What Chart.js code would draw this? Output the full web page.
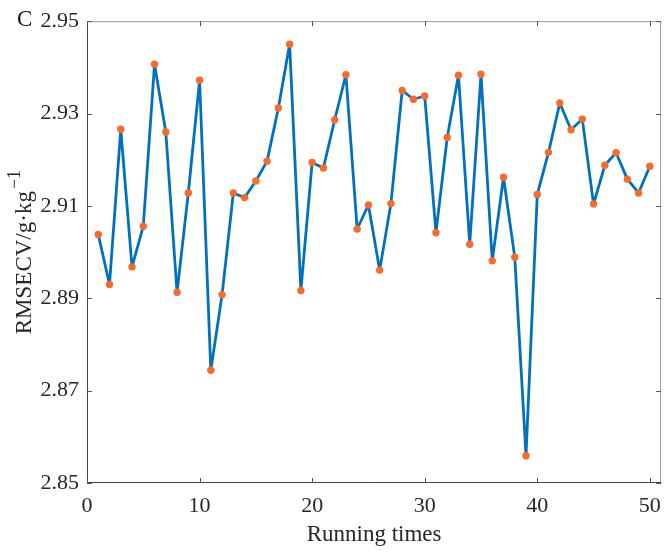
<!DOCTYPE html>
<html>
<head>
<meta charset="utf-8">
<script src="https://cdn.jsdelivr.net/npm/chart.js@4"></script>
<style>
  html, body { margin: 0; padding: 0; background: #fff; }
  canvas { display: block; }
</style>
</head>
<body>
<canvas id="rmsecvChart" width="671" height="553"></canvas>
<script>
// running index (x) and RMSECV (y)
var runs = [1, 2, 3, 4, 5, 6, 7, 8, 9, 10,
  11, 12, 13, 14, 15, 16, 17, 18, 19, 20,
  21, 22, 23, 24, 25, 26, 27, 28, 29, 30,
  31, 32, 33, 34, 35, 36, 37, 38, 39, 40,
  41, 42, 43, 44, 45, 46, 47, 48, 49, 50];
var rmsecv = [2.9038, 2.8930, 2.9266, 2.8968, 2.9056, 2.9407, 2.9260, 2.8913, 2.9128, 2.9372,
  2.8744, 2.8908, 2.9128, 2.9118, 2.9154, 2.9197, 2.9312, 2.9450, 2.8917, 2.9194,
  2.9182, 2.9286, 2.9384, 2.9050, 2.9102, 2.8961, 2.9105, 2.9350, 2.9331, 2.9338,
  2.9042, 2.9248, 2.9383, 2.9017, 2.9385, 2.8981, 2.9162, 2.8989, 2.8559, 2.9125,
  2.9216, 2.9323, 2.9265, 2.9288, 2.9104, 2.9188, 2.9215, 2.9158, 2.9128, 2.9186];
var xTicks = [0, 10, 20, 30, 40, 50];
var yTicks = [2.85, 2.87, 2.89, 2.91, 2.93, 2.95];

var SERIF = "'Liberation Serif', 'Times New Roman', serif";
var INK = "#262626";

// MATLAB-style box with inward ticks, panel letter and y label with superscript
var framePlugin = {
  id: "frame",
  afterDraw: function (chart) {
    var ctx = chart.ctx;
    var a = chart.chartArea;
    var xs = chart.scales.x;
    var ys = chart.scales.y;
    var tl = 5;
    ctx.save();
    ctx.lineWidth = 1;

    ctx.strokeStyle = "#9a9a9a";
    ctx.beginPath();
    ctx.moveTo(a.left, a.top + 0.5);
    ctx.lineTo(a.right, a.top + 0.5);
    ctx.moveTo(a.right - 0.5, a.top);
    ctx.lineTo(a.right - 0.5, a.bottom);
    ctx.stroke();

    ctx.strokeStyle = "#444";
    ctx.beginPath();
    ctx.moveTo(a.left + 0.5, a.top);
    ctx.lineTo(a.left + 0.5, a.bottom);
    ctx.moveTo(a.left, a.bottom - 0.5);
    ctx.lineTo(a.right, a.bottom - 0.5);
    ctx.stroke();

    ctx.strokeStyle = "#555";
    ctx.beginPath();
    xTicks.forEach(function (v) {
      var px = Math.round(xs.getPixelForValue(v)) + 0.5;
      ctx.moveTo(px, a.bottom);
      ctx.lineTo(px, a.bottom - tl);
      ctx.moveTo(px, a.top);
      ctx.lineTo(px, a.top + tl);
    });
    yTicks.forEach(function (v) {
      var py = Math.round(ys.getPixelForValue(v)) + 0.5;
      ctx.moveTo(a.left, py);
      ctx.lineTo(a.left + tl, py);
      ctx.moveTo(a.right, py);
      ctx.lineTo(a.right - tl, py);
    });
    ctx.stroke();

    ctx.fillStyle = "#111";
    ctx.font = "23px " + SERIF;
    ctx.textAlign = "left";
    ctx.textBaseline = "alphabetic";
    ctx.fillText("C", 17, 26);

    // y axis label, rotated
    ctx.translate(31, (a.top + a.bottom) / 2);
    ctx.rotate(-Math.PI / 2);
    ctx.fillStyle = INK;
    var main = "RMSECV/g\u00b7kg";
    var sup = "\u22121";
    ctx.font = "23px " + SERIF;
    var w1 = ctx.measureText(main).width;
    ctx.font = "18px " + SERIF;
    var w2 = ctx.measureText(sup).width;
    var start = -(w1 + w2 + 2) / 2;
    ctx.font = "23px " + SERIF;
    ctx.fillText(main, start, 0);
    ctx.font = "18px " + SERIF;
    ctx.fillText(sup, start + w1 + 2, -11);
    ctx.restore();
  },
};

new Chart(document.getElementById("rmsecvChart"), {
  type: "line",
  data: {
    datasets: [
      {
        data: runs.map(function (r, i) {
          return { x: r, y: rmsecv[i] };
        }),
        borderColor: "#0072BD",
        borderWidth: 2.8,
        borderJoinStyle: "round",
        borderCapStyle: "round",
        pointBackgroundColor: "#F96A2B",
        pointBorderWidth: 0,
        pointRadius: 3.7,
        tension: 0,
        fill: false,
      },
    ],
  },
  options: {
    responsive: false,
    animation: false,
    layout: { padding: { top: 19, right: 8, left: 0, bottom: 0 } },
    plugins: { legend: { display: false }, tooltip: { enabled: false } },
    scales: {
      x: {
        type: "linear",
        min: 0,
        max: 51,
        afterBuildTicks: function (s) {
          s.ticks = xTicks.map(function (v) { return { value: v }; });
        },
        afterFit: function (s) { s.height = 70; },
        grid: { display: false, drawTicks: false },
        border: { display: false },
        ticks: {
          padding: 10,
          maxRotation: 0,
          color: INK,
          font: { family: SERIF, size: 22 },
        },
        title: {
          display: true,
          text: "Running times",
          color: INK,
          padding: { top: 0, bottom: 4 },
          font: { family: SERIF, size: 23 },
        },
      },
      y: {
        min: 2.85,
        max: 2.95,
        afterBuildTicks: function (s) {
          s.ticks = yTicks.map(function (v) { return { value: v }; });
        },
        afterFit: function (s) { s.width = 87; },
        grid: { display: false, drawTicks: false },
        border: { display: false },
        ticks: {
          padding: 8,
          color: INK,
          font: { family: SERIF, size: 22 },
          callback: function (v) { return Number(v).toFixed(2); },
        },
      },
    },
  },
  plugins: [framePlugin],
});
</script>
</body>
</html>
